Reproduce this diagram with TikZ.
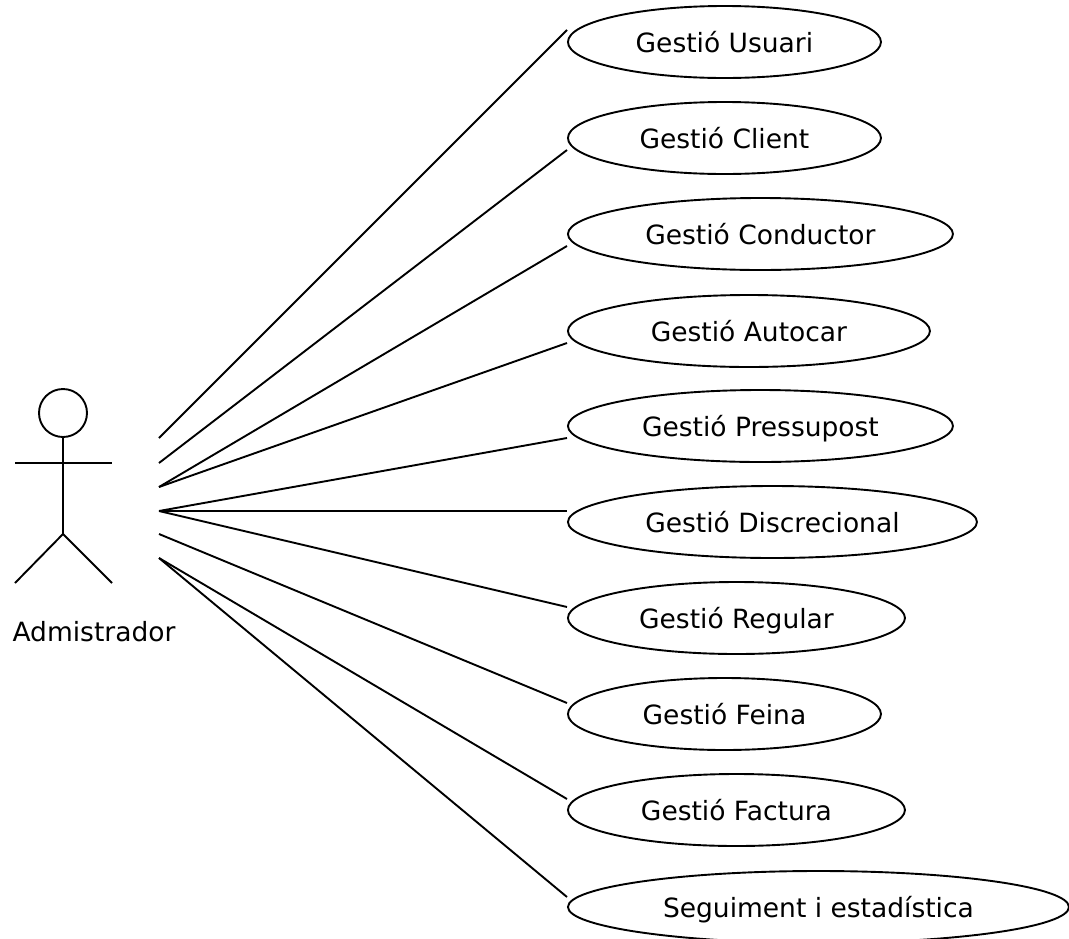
\documentclass[tikz,border=0pt]{standalone}
\usepackage{fontspec}
\setmainfont{DejaVu Sans}
\usetikzlibrary{shapes.geometric}

\begin{document}
\begin{tikzpicture}[x=1pt, y=-1pt, line width=1.9pt,
        usecase/.style={draw, ellipse, anchor=west, inner sep=0pt, minimum height=72pt,
            font=\fontsize{26.5}{31}\selectfont, text height=20pt, text depth=0pt}]
            \useasboundingbox (0, 0) rectangle (1069, 938);

            \draw (63, 413) circle[radius=24pt];
            \draw (63, 437) -- (63, 534);
            \draw (15, 463) -- (112, 463);
            \draw (15, 583) -- (63, 534) -- (112, 583);
            \node[font=\fontsize{26.5}{31}\selectfont] (admin) at (94, 632) {Admistrador};

            \coordinate (a1) at (159, 438);
            \coordinate (a2) at (159, 463);
            \coordinate (a3) at (159, 487);
            \coordinate (a4) at (159, 511);
            \coordinate (a5) at (159, 534);
            \coordinate (a6) at (159, 558);

            \node[usecase, minimum width=313pt] (usuari) at (567, 42) {Gestió Usuari};
            \node[usecase, minimum width=313pt] (client) at (567, 138) {Gestió Client};
            \node[usecase, minimum width=385pt] (conductor) at (567, 234) {Gestió Conductor};
            \node[usecase, minimum width=362pt] (autocar) at (567, 331) {Gestió Autocar};
            \node[usecase, minimum width=385pt] (pressupost) at (567, 426) {Gestió Pressupost};
            \node[usecase, minimum width=409pt] (discrecional) at (567, 522) {Gestió Discrecional};
            \node[usecase, minimum width=337pt] (regular) at (567, 618) {Gestió Regular};
            \node[usecase, minimum width=313pt] (feina) at (567, 714) {Gestió Feina};
            \node[usecase, minimum width=337pt] (factura) at (567, 810) {Gestió Factura};
            \node[usecase, minimum width=501pt] (seguiment) at (567, 907) {Seguiment i estadística};

            \draw (a1) edge ([yshift=12pt]usuari.west)
                (a2) edge ([yshift=-12pt]client.west)
                (a3) edge ([yshift=-12pt]conductor.west)
                (a3) edge ([yshift=-12pt]autocar.west)
                (a4) edge ([yshift=-12pt]pressupost.west)
                (a4) edge ([yshift=11pt]discrecional.west)
                (a4) edge ([yshift=11pt]regular.west)
                (a5) edge ([yshift=11pt]feina.west)
                (a6) edge ([yshift=11pt]factura.west)
                (a6) edge ([yshift=10pt]seguiment.west);
        \end{tikzpicture}
\end{document}
